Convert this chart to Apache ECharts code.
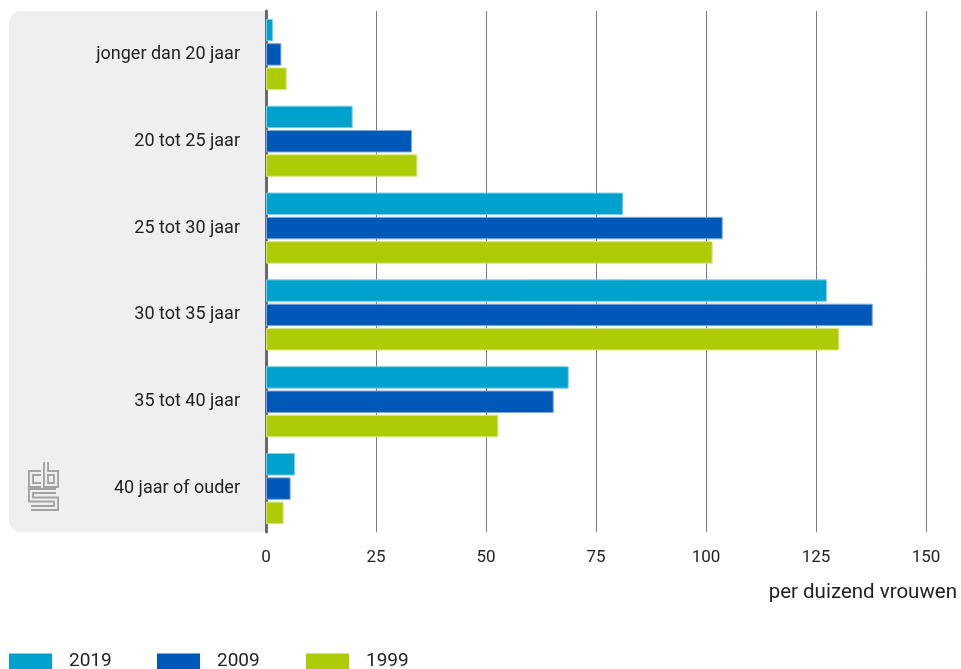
<!DOCTYPE html>
<html>
<head>
<meta charset="utf-8">
<script src="https://cdn.jsdelivr.net/npm/echarts@6/dist/echarts.min.js"></script>
<style>html,body{margin:0;padding:0;background:#fff;}#c{width:961px;height:669px;}</style>
</head>
<body>
<div id="c"></div>
<script>
const categories = ['jonger dan 20 jaar', '20 tot 25 jaar', '25 tot 30 jaar', '30 tot 35 jaar', '35 tot 40 jaar', '40 jaar of ouder'];
const seriesNames = ['2019', '2009', '1999'];
const v2019 = [1.6, 19.7, 81.2, 127.5, 68.8, 6.6];
const v2009 = [3.5, 33.2, 103.8, 137.9, 65.4, 5.6];
const v1999 = [4.7, 34.4, 101.5, 130.3, 52.8, 4.0];
const xTicks = [0, 25, 50, 75, 100, 125, 150];
const axisTitle = 'per duizend vrouwen';

const colors = ['#00a1cd', '#0058b8', '#afcb05'];
const borders = ['#7fd0e6', '#7fabdb', '#d7e582'];
const FONT = 'Roboto';
const chart = echarts.init(document.getElementById('c'));

const gridL = 266, gridT = 11, gridR = 35, gridB = 669 - 532;
const values = [v2019, v2009, v1999];

const logoPaths = [
  [[41,473],[31,473],[31,485],[41,485]],
  [[46,462],[46,485],[56,485],[56,473],[46,473]],
  [[56,491],[31,491],[31,499.5],[56,499.5],[56,508],[31,508]]
];
const logo = [];
logoPaths.forEach(p => {
  logo.push({type:'polyline', shape:{points:p}, style:{stroke:'#a3a3a3', lineWidth:6, fill:null, lineJoin:'miter', lineCap:'butt'}, z:1});
});
logoPaths.forEach(p => {
  logo.push({type:'polyline', shape:{points:p}, style:{stroke:'#efefef', lineWidth:2.2, fill:null, lineJoin:'miter', lineCap:'butt'}, z:2});
});

const legendLeft = [9, 157, 306];

chart.setOption({
  animation: false,
  textStyle: {fontFamily: FONT},
  grid: {left: gridL, top: gridT, right: gridR, bottom: gridB, containLabel: false},
  legend: seriesNames.map((n, i) => ({
    data: [n], left: legendLeft[i], top: 652, itemWidth: 43, itemHeight: 16,
    icon: 'rect', itemStyle: {borderWidth: 0}, padding: 0,
    textStyle: {fontFamily: FONT, fontSize: 19, color: '#222', padding: [0, 0, 0, 12]}
  })),
  xAxis: {
    type: 'value', min: 0, max: 150, interval: 25,
    axisLine: {show: false},
    axisTick: {show: false},
    splitLine: {show: true, lineStyle: {color: '#7a7a7a', width: 1}},
    axisLabel: {color: '#222', fontSize: 17, margin: 17, fontFamily: FONT,
      formatter: v => xTicks.includes(v) ? String(v) : ''}
  },
  yAxis: {
    type: 'category', data: categories, inverse: true,
    axisLine: {show: true, lineStyle: {color: '#6a6a6a', width: 3}},
    axisTick: {show: false},
    axisLabel: {color: '#222', fontSize: 18, margin: 26, fontFamily: FONT}
  },
  graphic: [
    {type: 'rect', left: 9, top: 11, shape: {width: 258, height: 521, r: [12, 0, 0, 12]}, style: {fill: '#efefef'}, z: -10, silent: true},
    {type: 'text', right: 4, top: 582, style: {text: axisTitle, font: '20.5px ' + FONT, fill: '#222', textAlign: 'right'}},
    {type: 'group', children: logo}
  ],
  series: seriesNames.map((n, i) => ({
    name: n, type: 'bar', data: values[i], barWidth: 22.5, barGap: '8%',
    itemStyle: {color: colors[i], borderColor: borders[i], borderWidth: 1},
    z: 3
  }))
});
</script>
</body>
</html>
